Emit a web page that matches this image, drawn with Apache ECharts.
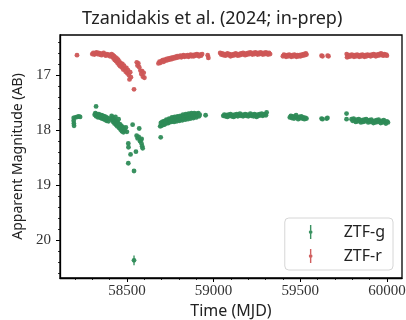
<!DOCTYPE html>
<html>
<head>
<meta charset="utf-8">
<script src="https://cdn.jsdelivr.net/npm/echarts@6.0.0/dist/echarts.min.js"></script>
<style>
  html, body { margin: 0; padding: 0; background: #fff; }
  #chart { width: 406px; height: 320px; }
</style>
</head>
<body>
<div id="chart"></div>
<script>
// ZTF-r light curve, [MJD, mag]
var ztfR = [
  [58212,16.64],
  [58300,16.62],[58306,16.60],[58312,16.63],[58318,16.61],[58324,16.59],[58330,16.62],[58336,16.60],[58342,16.63],[58348,16.61],
  [58354,16.64],[58360,16.62],[58366,16.60],[58372,16.63],[58378,16.65],[58384,16.62],[58390,16.64],[58396,16.63],[58402,16.66],
  [58412,16.62],[58415,16.67],[58419,16.64],[58423,16.70],[58426,16.66],[58430,16.73],[58434,16.68],[58438,16.75],[58441,16.70],
  [58445,16.78],[58449,16.72],[58453,16.81],[58457,16.76],[58461,16.84],[58465,16.79],[58470,16.86],[58474,16.80],[58479,16.90],
  [58483,16.83],[58488,16.88],[58493,16.94],[58497,16.87],[58502,16.97],[58506,16.91],[58511,17.00],[58515,17.08],[58519,16.95],
  [58523,17.04],[58541,17.26],[58557,16.77],[58561,16.83],[58566,16.79],[58571,16.86],[58578,16.92],[58583,16.98],[58588,16.93],
  [58592,17.03],[58597,16.96],[58601,17.05],
  [58682,16.79],[58688,16.76],[58694,16.78],[58700,16.75],[58706,16.73],[58712,16.76],[58718,16.72],[58724,16.74],[58730,16.71],
  [58736,16.73],[58742,16.70],[58748,16.72],[58754,16.69],[58760,16.71],[58766,16.68],[58772,16.70],[58778,16.67],[58784,16.69],
  [58790,16.66],[58796,16.68],[58802,16.67],[58808,16.65],[58814,16.68],[58820,16.66],[58826,16.64],[58832,16.67],[58838,16.65],
  [58844,16.66],[58850,16.64],[58856,16.67],[58862,16.65],[58868,16.63],[58874,16.66],[58880,16.64],[58886,16.66],[58892,16.63],
  [58898,16.65],[58904,16.62],[58910,16.64],[58916,16.66],[58922,16.63],[58928,16.65],[58934,16.62],[58966,16.64],[58970,16.69],
  [59038,16.60],[59044,16.63],[59050,16.61],[59056,16.64],[59062,16.62],[59068,16.65],[59074,16.63],[59080,16.61],[59086,16.64],
  [59092,16.62],[59098,16.66],[59104,16.63],[59110,16.65],[59116,16.62],[59122,16.64],[59128,16.61],[59134,16.63],[59140,16.65],
  [59146,16.62],[59152,16.64],[59158,16.61],[59164,16.63],[59170,16.60],[59176,16.62],[59182,16.64],[59188,16.61],[59194,16.63],
  [59200,16.60],[59206,16.62],[59212,16.59],[59218,16.61],[59224,16.63],[59230,16.60],[59236,16.62],[59242,16.59],[59248,16.61],
  [59254,16.63],[59260,16.60],[59266,16.62],[59272,16.59],[59278,16.61],[59284,16.63],[59290,16.60],[59296,16.62],[59302,16.59],
  [59308,16.61],[59314,16.63],[59320,16.60],[59326,16.62],
  [59400,16.66],[59406,16.63],[59412,16.65],[59418,16.67],[59424,16.64],[59430,16.66],[59436,16.63],[59442,16.65],[59448,16.67],
  [59454,16.64],[59460,16.66],[59466,16.63],[59472,16.65],[59478,16.67],[59484,16.64],[59490,16.66],[59496,16.64],[59502,16.66],
  [59508,16.63],[59514,16.65],[59520,16.62],[59526,16.64],[59532,16.61],[59536,16.63],
  [59623,16.65],[59628,16.66],[59658,16.65],[59663,16.66],
  [59768,16.62],[59770,16.68],[59774,16.65],[59780,16.67],[59786,16.64],[59792,16.66],[59798,16.63],[59804,16.65],[59810,16.67],
  [59816,16.64],[59822,16.66],[59828,16.63],[59834,16.65],[59840,16.67],[59846,16.64],[59852,16.66],[59858,16.63],[59864,16.65],
  [59870,16.67],[59876,16.64],[59882,16.66],[59888,16.63],[59894,16.65],[59900,16.64],[59906,16.66],[59912,16.63],[59918,16.65],
  [59924,16.62],[59930,16.64],[59936,16.66],[59942,16.63],[59948,16.65],[59954,16.62],[59960,16.64],[59966,16.61],[59972,16.63],
  [59978,16.65],[59984,16.62],[59990,16.64],[59996,16.63],[60000,16.65]
];

// ZTF-g light curve, [MJD, mag]
var ztfG = [
  [58193,17.78],[58193,17.83],[58194,17.88],[58195,17.92],[58203,17.77],[58213,17.76],[58222,17.75],[58230,17.76],
  [58322,17.57],
  [58314,17.72],[58318,17.69],[58322,17.75],[58326,17.71],[58330,17.74],[58334,17.77],[58338,17.71],[58342,17.76],[58346,17.73],
  [58350,17.78],[58354,17.73],[58358,17.79],[58362,17.74],[58366,17.80],[58370,17.75],[58374,17.81],[58378,17.76],[58382,17.83],
  [58388,17.78],[58394,17.84],[58400,17.79],
  [58412,17.74],[58415,17.81],[58418,17.77],[58421,17.85],[58424,17.79],[58428,17.88],[58431,17.82],[58434,17.76],[58437,17.90],
  [58441,17.84],[58444,17.93],[58448,17.86],[58452,17.80],[58455,17.96],[58459,17.89],[58463,17.99],[58467,17.92],[58471,18.02],
  [58475,17.94],[58480,18.04],[58484,17.97],[58489,18.01],[58494,17.95],[58500,18.03],
  [58508,18.24],[58509,18.31],[58508,18.60],[58521,18.44],[58533,17.90],[58541,18.74],[58552,18.39],
  [58556,18.10],[58562,18.15],[58568,18.12],[58571,17.97],[58576,18.20],[58580,18.18],[58584,18.24],[58588,18.29],[58591,18.33],
  [58585,18.16],
  [58541,20.36],
  [58695,18.13],
  [58692,17.93],[58696,17.87],[58700,17.92],[58704,17.85],[58708,17.90],[58712,17.84],[58716,17.90],[58720,17.83],[58724,17.88],
  [58728,17.81],[58732,17.87],[58736,17.82],[58740,17.87],[58744,17.79],[58748,17.85],[58752,17.80],[58756,17.85],[58760,17.77],
  [58764,17.83],[58768,17.78],[58772,17.85],[58776,17.76],[58780,17.82],[58784,17.77],[58788,17.84],[58792,17.75],[58796,17.81],
  [58800,17.76],[58804,17.83],[58808,17.74],[58812,17.80],[58816,17.75],[58820,17.82],[58824,17.72],[58828,17.79],[58832,17.74],
  [58836,17.81],[58840,17.71],[58844,17.78],[58848,17.73],[58852,17.80],[58856,17.70],[58860,17.77],[58864,17.72],[58868,17.79],
  [58872,17.69],[58876,17.76],[58880,17.72],[58884,17.78],[58888,17.69],[58892,17.75],[58896,17.71],[58900,17.77],[58904,17.70],
  [58908,17.74],[58912,17.69],[58916,17.75],[58920,17.72],[58954,17.73],
  [59056,17.74],[59062,17.72],[59068,17.75],[59074,17.73],[59080,17.76],[59086,17.72],[59092,17.74],[59098,17.71],[59104,17.75],
  [59110,17.73],[59116,17.76],[59122,17.72],[59128,17.74],[59134,17.71],[59140,17.75],[59146,17.73],[59152,17.70],[59158,17.74],
  [59164,17.72],[59170,17.75],[59176,17.73],[59182,17.71],[59188,17.74],[59194,17.72],[59200,17.75],[59206,17.73],[59212,17.70],
  [59218,17.74],[59224,17.72],[59230,17.75],[59236,17.71],[59242,17.73],[59248,17.76],[59254,17.72],[59260,17.74],[59266,17.71],
  [59272,17.73],[59278,17.70],[59284,17.74],[59290,17.72],[59296,17.71],[59302,17.73],[59306,17.68],
  [59440,17.77],[59446,17.74],[59452,17.78],[59458,17.75],[59464,17.79],[59470,17.76],[59476,17.73],[59482,17.77],[59488,17.80],
  [59494,17.76],[59500,17.78],[59506,17.75],[59512,17.79],[59518,17.77],[59524,17.80],[59530,17.78],[59536,17.79],
  [59623,17.79],[59628,17.80],[59652,17.79],[59657,17.78],
  [59767,17.70],[59767,17.80],
  [59796,17.80],[59802,17.83],[59808,17.79],[59814,17.82],[59820,17.85],[59826,17.81],[59832,17.84],[59838,17.80],[59844,17.83],
  [59850,17.86],[59856,17.82],[59862,17.85],[59868,17.81],[59874,17.84],[59880,17.80],[59886,17.83],[59892,17.86],[59898,17.82],
  [59904,17.85],[59910,17.81],[59916,17.84],[59922,17.87],[59928,17.83],[59934,17.86],[59940,17.82],[59946,17.85],[59952,17.81],
  [59958,17.84],[59964,17.87],[59970,17.83],[59976,17.86],[59982,17.82],[59988,17.85],[59994,17.88],[60000,17.84],[60006,17.86]
];

// visible error bars, [MJD, mag, err]
var gErr = [[58541, 20.36, 0.09]];
var rErr = [[58970, 16.67, 0.05]];

// axis ticks
var xTicks = [58500, 59000, 59500, 60000];
var xMinor = [58200, 58300, 58400, 58600, 58700, 58800, 58900, 59100, 59200, 59300, 59400,
              59600, 59700, 59800, 59900, 60000];
var yTicks = [17, 18, 19, 20];
var yMinor = [16.4, 16.6, 16.8, 17.2, 17.4, 17.6, 17.8, 18.2, 18.4, 18.6, 18.8,
              19.2, 19.4, 19.6, 19.8, 20.2, 20.4, 20.6];

var gColor = '#2e8b57';
var rColor = '#cd5656';
var sans = 'Noto Sans';
var serif = 'Liberation Serif';
var xRange = [58114, 60087];
var yRange = [16.275, 20.68];
var errIcon = 'path://M8.5,0 L11.5,0 L11.5,11 L8.5,11 Z M8.5,19 L11.5,19 L11.5,30 L8.5,30 Z M6,15 A4,4 0 1 1 14,15 A4,4 0 1 1 6,15 Z';

function errRender(color) {
  return function (params, api) {
    var p1 = api.coord([api.value(0), api.value(1) - api.value(2)]);
    var p2 = api.coord([api.value(0), api.value(1) + api.value(2)]);
    return {
      type: 'line',
      shape: { x1: p1[0], y1: p1[1], x2: p2[0], y2: p2[1] },
      style: { stroke: color, lineWidth: 1.3 }
    };
  };
}

var chart = echarts.init(document.getElementById('chart'));
chart.setOption({
  animation: false,
  backgroundColor: '#fff',
  title: {
    text: 'Tzanidakis et al. (2024; in-prep)',
    left: 77,
    top: 5,
    textStyle: { fontFamily: sans, fontSize: 18, fontWeight: 'normal', color: '#222' }
  },
  grid: [
    { left: 60, right: 4, top: 35, bottom: 42, show: true, borderColor: '#000', borderWidth: 1.3, outerBoundsMode: 'none' },
    { left: 60, right: 4, top: 35, bottom: 42, show: false, outerBoundsMode: 'none' }
  ],
  legend: {
    data: [{ name: 'ZTF-g', icon: errIcon }, { name: 'ZTF-r', icon: errIcon }],
    orient: 'vertical',
    right: 13,
    bottom: 50,
    padding: [6, 8, 6, 24],
    itemWidth: 4,
    itemHeight: 14,
    itemGap: 8,
    backgroundColor: 'rgba(255,255,255,0.85)',
    borderColor: '#d6d6d6',
    borderWidth: 1,
    borderRadius: 4,
    textStyle: { fontFamily: sans, fontSize: 16, color: '#222', padding: [0, 0, 0, 26] }
  },
  xAxis: [{
    type: 'value', gridIndex: 0, min: xRange[0], max: xRange[1],
    name: 'Time (MJD)', nameLocation: 'middle', nameGap: 22,
    nameTextStyle: { fontFamily: sans, fontSize: 16, color: '#222' },
    axisLine: { show: true, lineStyle: { color: '#000', width: 1.3 } },
    axisTick: { show: true, inside: false, length: 4, customValues: xTicks, lineStyle: { color: '#000', width: 1 } },
    axisLabel: {
      customValues: xTicks, fontFamily: serif, fontSize: 15, color: '#333', margin: 6,
      formatter: function (v) { return String(v); }
    },
    splitLine: { show: false }
  }, {
    type: 'value', gridIndex: 1, min: xRange[0], max: xRange[1],
    axisLine: { show: false },
    axisTick: { show: true, inside: false, length: 2, customValues: xMinor, lineStyle: { color: '#000', width: 0.8 } },
    axisLabel: { show: false },
    splitLine: { show: false }
  }],
  yAxis: [{
    type: 'value', gridIndex: 0, inverse: true, min: yRange[0], max: yRange[1],
    name: 'Apparent Magnitude (AB)', nameLocation: 'middle', nameGap: 25,
    nameTextStyle: { fontFamily: sans, fontSize: 14, color: '#222' },
    axisLine: { show: true, lineStyle: { color: '#000', width: 1.3 } },
    axisTick: { show: true, inside: false, length: 4, customValues: yTicks, lineStyle: { color: '#000', width: 1 } },
    axisLabel: { customValues: yTicks, fontFamily: serif, fontSize: 15, color: '#333', margin: 9 },
    splitLine: { show: false }
  }, {
    type: 'value', gridIndex: 1, inverse: true, min: yRange[0], max: yRange[1],
    axisLine: { show: false },
    axisTick: { show: true, inside: false, length: 2, customValues: yMinor, lineStyle: { color: '#000', width: 0.8 } },
    axisLabel: { show: false },
    splitLine: { show: false }
  }],
  series: [{
    name: 'ZTF-g', type: 'scatter', data: ztfG, symbolSize: 4.8,
    itemStyle: { color: gColor, opacity: 0.95 }
  }, {
    name: 'ZTF-r', type: 'scatter', data: ztfR, symbolSize: 4.8,
    itemStyle: { color: rColor, opacity: 0.95 }
  }, {
    name: 'ZTF-g', type: 'custom', data: gErr, renderItem: errRender(gColor),
    itemStyle: { color: gColor }
  }, {
    name: 'ZTF-r', type: 'custom', data: rErr, renderItem: errRender(rColor),
    itemStyle: { color: rColor }
  }]
});
</script>
</body>
</html>
